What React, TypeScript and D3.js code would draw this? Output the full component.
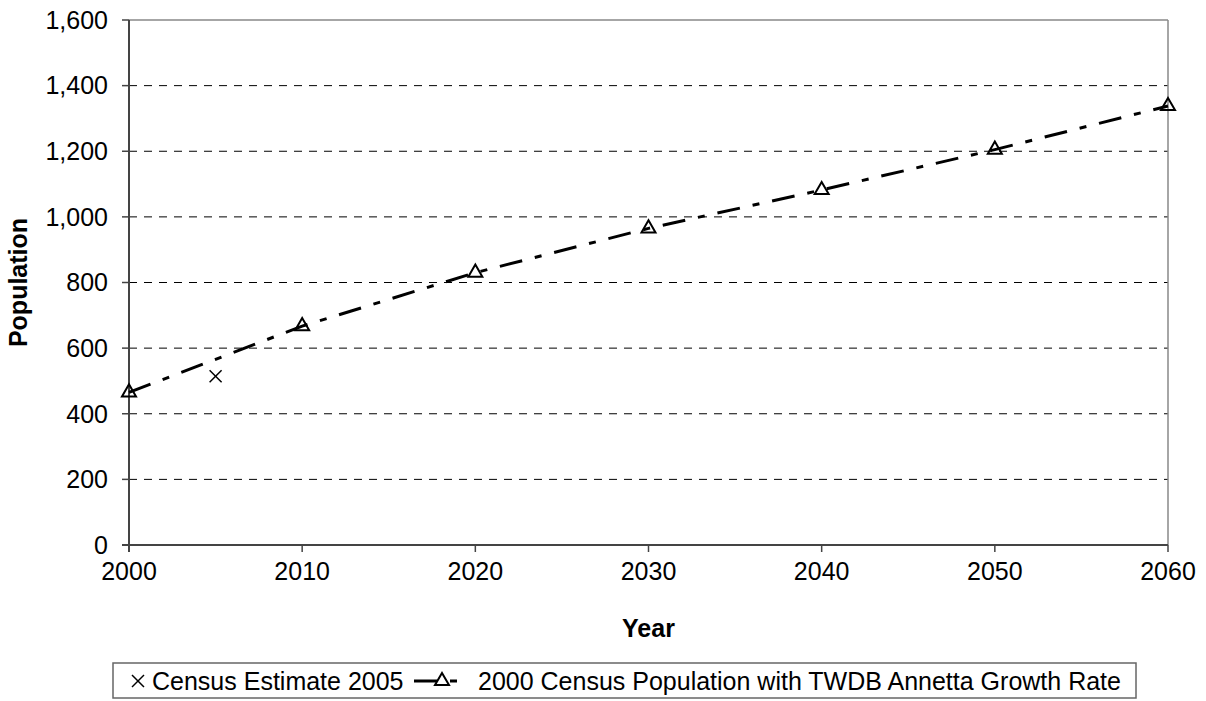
import { line, scaleLinear, symbol, symbolTriangle } from 'd3';
import React from 'react';

const width = 1206;
const height = 701;
const font = 'Liberation Sans, Arial, sans-serif';

const projYears = [2000, 2010, 2020, 2030, 2040, 2050, 2060];
const projValues = [465, 667, 830, 965, 1082, 1205, 1338];
const estYears = [2005];
const estValues = [514];
const yTicks = [0, 200, 400, 600, 800, 1000, 1200, 1400, 1600];
const xTicks = [2000, 2010, 2020, 2030, 2040, 2050, 2060];
const legendLabels = ['Census Estimate 2005', '2000 Census Population with TWDB Annetta Growth Rate'];

const plot = { left: 129, right: 1168, top: 20, bottom: 545 };
const fontSize = 25;
const dash = '23,13,7,13';

const fmt = (v: number) => v.toLocaleString('en-US');

const Cross = ({ x, y }: { x: number; y: number }) => (
	<g transform={`translate(${x},${y})`} stroke="#000" strokeWidth={1.5}>
		<line x1={-6} y1={-6} x2={6} y2={6} />
		<line x1={-6} y1={6} x2={6} y2={-6} />
	</g>
);

const tri = symbol(symbolTriangle, 85)();

const Triangle = ({ x, y }: { x: number; y: number }) => (
	<path d={tri || ''} transform={`translate(${x},${y})`} fill="none" stroke="#000" strokeWidth={2} />
);

const App = () => {
	const xScale = scaleLinear().domain([2000, 2060]).range([plot.left, plot.right]);
	const yScale = scaleLinear().domain([0, 1600]).range([plot.bottom, plot.top]);

	const proj = projYears.map((y, i) => ({ x: y, v: projValues[i] }));
	const est = estYears.map((y, i) => ({ x: y, v: estValues[i] }));
	const path = line<{ x: number; v: number }>()
		.x(d => xScale(d.x))
		.y(d => yScale(d.v))(proj);

	const legendY = 681;
	return (
		<svg
			width={width}
			height={height}
			style={{ position: 'absolute', left: 0, top: 0, background: '#fff' }}
			fontFamily={font}
		>
			{/* grid */}
			{yTicks.slice(1, -1).map(t => (
				<line
					key={t}
					x1={plot.left}
					x2={plot.right}
					y1={yScale(t)}
					y2={yScale(t)}
					stroke="#000"
					strokeDasharray="8,7"
				/>
			))}
			<line x1={plot.left} x2={plot.right} y1={plot.top} y2={plot.top} stroke="#888" strokeWidth={1.5} />
			<line x1={plot.right} x2={plot.right} y1={plot.top} y2={plot.bottom} stroke="#888" strokeWidth={1.5} />
			<line x1={plot.left} x2={plot.left} y1={plot.top} y2={plot.bottom + 7} stroke="#444" strokeWidth={2} />
			<line x1={plot.left - 7} x2={plot.right} y1={plot.bottom} y2={plot.bottom} stroke="#444" strokeWidth={2} />
			{yTicks.map(t => (
				<g key={t}>
					<line x1={plot.left - 7} x2={plot.left} y1={yScale(t)} y2={yScale(t)} stroke="#444" strokeWidth={1.5} />
					<text x={108} y={yScale(t)} dy="0.35em" textAnchor="end" fontSize={fontSize}>
						{fmt(t)}
					</text>
				</g>
			))}
			{xTicks.map(t => (
				<g key={t}>
					<line x1={xScale(t)} x2={xScale(t)} y1={plot.bottom} y2={plot.bottom + 7} stroke="#444" strokeWidth={1.5} />
					<text x={xScale(t)} y={580} textAnchor="middle" fontSize={fontSize}>
						{t}
					</text>
				</g>
			))}
			<text x={(plot.left + plot.right) / 2} y={637} textAnchor="middle" fontSize={fontSize} fontWeight="bold">
				Year
			</text>
			<text
				transform={`translate(27,${(plot.top + plot.bottom) / 2}) rotate(-90)`}
				textAnchor="middle"
				fontSize={fontSize}
				fontWeight="bold"
			>
				Population
			</text>

			{/* series */}
			<path d={path || ''} fill="none" stroke="#000" strokeWidth={3} strokeDasharray={dash} />
			{proj.map(d => (
				<Triangle key={d.x} x={xScale(d.x)} y={yScale(d.v)} />
			))}
			{est.map(d => (
				<Cross key={d.x} x={xScale(d.x)} y={yScale(d.v)} />
			))}

			{/* legend */}
			<rect x={113} y={663} width={1023} height={35} fill="#fff" stroke="#666" strokeWidth={1.5} />
			<Cross x={138} y={legendY} />
			<text x={152} y={legendY} dy="0.35em" fontSize={fontSize}>
				{legendLabels[0]}
			</text>
			<line x1={414} x2={460} y1={legendY} y2={legendY} stroke="#000" strokeWidth={3} strokeDasharray={dash} />
			<Triangle x={442} y={legendY} />
			<text x={478} y={legendY} dy="0.35em" fontSize={fontSize}>
				{legendLabels[1]}
			</text>
		</svg>
	);
};

export default App;
